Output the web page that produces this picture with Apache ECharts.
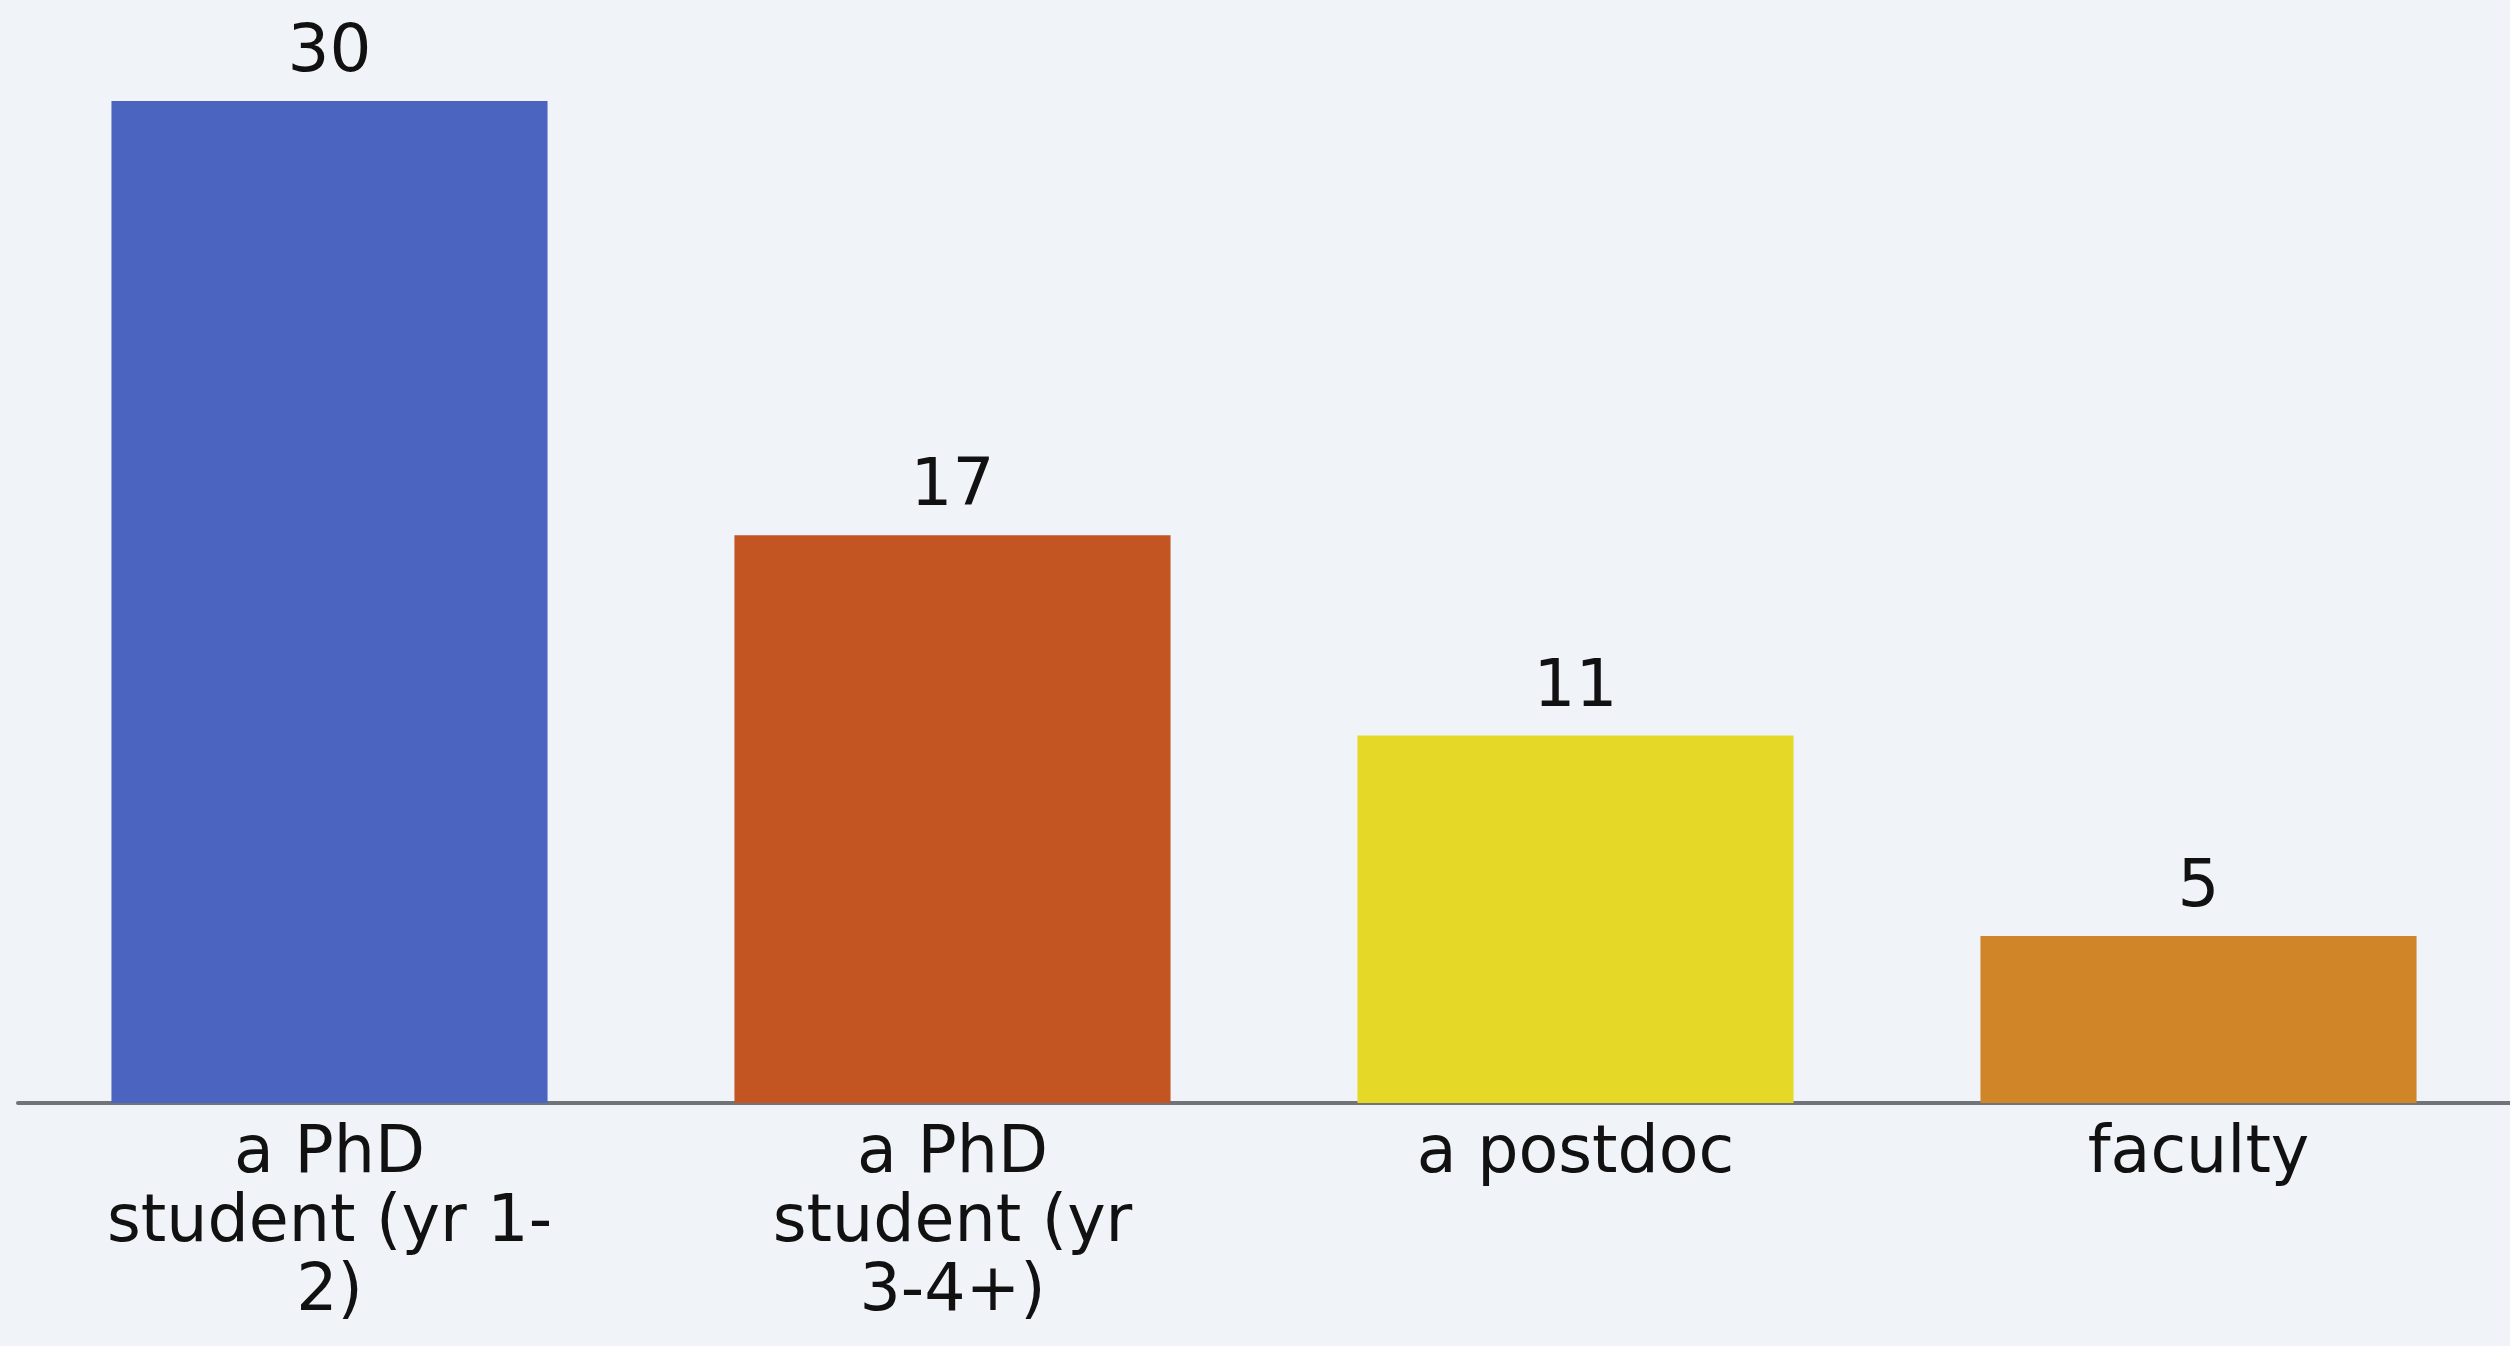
<!DOCTYPE html>
<html>
<head>
<meta charset="utf-8">
<script src="https://cdn.jsdelivr.net/npm/echarts@6/dist/echarts.min.js"></script>
<style>
html,body{margin:0;padding:0;background:#F0F4F9;}
#chart{width:2510px;height:1346px;}
</style>
</head>
<body>
<div id="chart"></div>
<script>
const categories = ["a PhD student (yr 1-2)", "a PhD student (yr 3-4+)", "a postdoc", "faculty"];
const tickLabels = ["a PhD\nstudent (yr 1-\n2)", "a PhD\nstudent (yr\n3-4+)", "a postdoc", "faculty"];
const values = [30, 17, 11, 5];
const colors = ["#4A64BF", "#C25522", "#E6D826", "#CF8528"];

const FONT = 'DejaVu Sans';
const chart = echarts.init(document.getElementById('chart'));
chart.setOption({
  backgroundColor: '#F0F4F9',
  animation: false,
  grid: {left: 18, right: 0, top: 101, bottom: 243, containLabel: false},
  xAxis: {
    type: 'category',
    data: categories,
    axisLine: {show: true, lineStyle: {color: '#707378', width: 4}},
    axisTick: {show: false},
    axisLabel: {
      interval: 0,
      margin: 18,
      color: '#111111',
      fontFamily: FONT,
      fontSize: 65,
      lineHeight: 69,
      formatter: function (v, i) { return tickLabels[i]; }
    }
  },
  yAxis: {
    type: 'value', min: 0, max: 30, show: false,
    splitLine: {show: false}
  },
  series: [{
    type: 'bar',
    barWidth: '70%',
    data: values.map((v, i) => ({value: v, itemStyle: {color: colors[i]}})),
    label: {
      show: true, position: 'top', distance: 14,
      color: '#111111', fontFamily: FONT, fontSize: 66
    }
  }]
});
</script>
</body>
</html>
